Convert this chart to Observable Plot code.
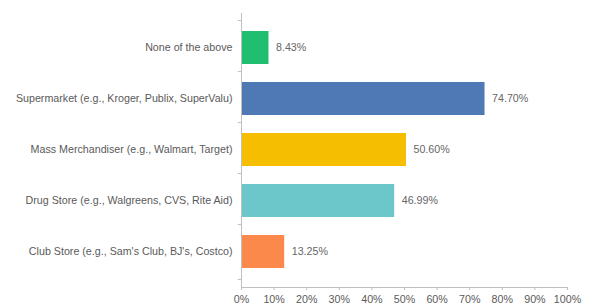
<!DOCTYPE html>
<html>
<head>
<meta charset="utf-8">
<script src="https://cdn.jsdelivr.net/npm/d3@7"></script>
<script src="https://cdn.jsdelivr.net/npm/@observablehq/plot@0.6"></script>
<style>
  html, body { margin: 0; padding: 0; background: #fff; }
  #chart svg { display: block; }
</style>
</head>
<body>
<div id="chart"></div>
<script>
const categories = [
  "None of the above",
  "Supermarket (e.g., Kroger, Publix, SuperValu)",
  "Mass Merchandiser (e.g., Walmart, Target)",
  "Drug Store (e.g., Walgreens, CVS, Rite Aid)",
  "Club Store (e.g., Sam's Club, BJ's, Costco)"
];
const values = [8.43, 74.70, 50.60, 46.99, 13.25];
const colors = ["#1fbf6f", "#4e79b4", "#f6be00", "#6cc7cb", "#fc894c"];
const xTicks = [0, 10, 20, 30, 40, 50, 60, 70, 80, 90, 100];

const data = categories.map((c, i) => ({category: c, value: values[i], color: colors[i]}));

const W = 592, H = 308;
const mTop = 13, mBottom = 21;
const step = (H - mTop - mBottom) / categories.length;

const chart = Plot.plot({
  width: W,
  height: H,
  marginLeft: 241,
  marginRight: 25,
  marginTop: mTop,
  marginBottom: mBottom,
  style: {fontFamily: "'Liberation Sans', Arial, sans-serif", fontSize: "10.7px", color: "#5a5a5a", background: "#fff"},
  x: {domain: [0, 100], ticks: xTicks, tickFormat: d => d + "%"},
  y: {domain: categories, padding: 0.345},
  marks: [
    Plot.barX(data, {x: "value", y: "category", fill: "color"}),
    Plot.text(data, {x: "value", y: "category", text: d => d.value.toFixed(2) + "%", textAnchor: "start", dx: 7, fill: "#666", fontSize: 10.7}),
    Plot.frame({anchor: "left", stroke: "#bfbfbf"}),
    Plot.frame({anchor: "bottom", stroke: "#bfbfbf"}),
    Plot.ruleY(categories, {y: d => d, x1: -1, x2: 0, dy: -step / 2, stroke: "#bfbfbf"}),
    Plot.ruleY([categories[categories.length - 1]], {y: d => d, x1: -1, x2: 0, dy: step / 2, stroke: "#bfbfbf"}),
    Plot.axisY({tickSize: 0, tickPadding: 9, label: null, fill: "#5a5a5a", fontSize: 10.7}),
    Plot.axisX({ticks: xTicks, tickFormat: d => d + "%", tickSize: 3, tickPadding: 5, stroke: "#bfbfbf", fill: "#5a5a5a", label: null, fontSize: 10.7})
  ]
});
document.getElementById("chart").appendChild(chart);
</script>
</body>
</html>
